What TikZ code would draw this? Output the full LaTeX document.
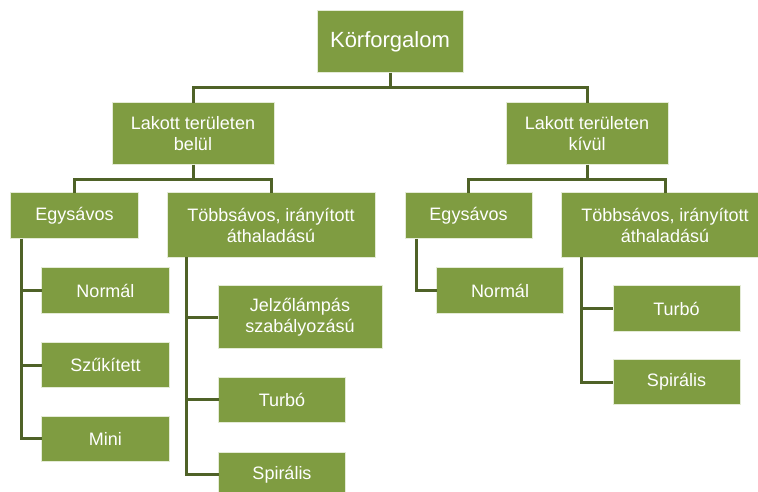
\documentclass[tikz,border=0pt]{standalone}
\usepackage{fontspec}
\setmainfont{Liberation Sans}
\usetikzlibrary{calc}
\definecolor{boxfill}{HTML}{7F9C41}
\definecolor{boxedge}{HTML}{E4EBD6}
\definecolor{linkcol}{HTML}{4F6228}
\begin{document}
\begin{tikzpicture}[x=1bp,y=-1bp,
  box/.style={draw=boxedge, line width=1bp, fill=boxfill, text=white,
    align=center, inner sep=0pt, outer sep=0pt,
    font=\fontsize{18bp}{21bp}\selectfont},
  leaf/.style={box, minimum width=127bp, minimum height=45bp},
  conn/.style={draw=linkcol, line width=3bp}]
\useasboundingbox (0,0) rectangle (758,492);
\clip (0,0) rectangle (758,492);

% tree boxes
\node[box, minimum width=146bp, minimum height=62bp,
  font=\fontsize{22bp}{26bp}\selectfont] (kor) at (390,42) {Körforgalom};
\node[box, minimum width=162bp, minimum height=62bp] (belul) at (193,134) {Lakott területen\\belül};
\node[box, minimum width=162bp, minimum height=62bp] (kivul) at (587,134) {Lakott területen\\kívül};
\node[box, minimum width=127bp, minimum height=46bp] (egy1) at (74.5,216) {Egysávos};
\node[box, minimum width=208bp, minimum height=64bp] (tobb1) at (271,225) {Többsávos, irányított\\áthaladású};
\node[box, minimum width=127bp, minimum height=46bp] (egy2) at (468.5,216) {Egysávos};
\node[box, minimum width=208bp, minimum height=64bp] (tobb2) at (665,225) {Többsávos, irányított\\áthaladású};
\node[leaf] (norm1) at (105.5,290.5) {Normál};
\node[leaf] (szuk) at (105.5,365) {Szűkített};
\node[leaf] (mini) at (105.5,438.5) {Mini};
\node[box, minimum width=164bp, minimum height=62bp] (jelzo) at (300,317) {Jelzőlámpás\\szabályozású};
\node[leaf] (turbo1) at (282,399.5) {Turbó};
\node[leaf] (spir1) at (282,474.5) {Spirális};
\node[leaf] (norm2) at (500,290.5) {Normál};
\node[leaf] (turbo2) at (676.5,308.5) {Turbó};
\node[leaf] (spir2) at (676.5,382) {Spirális};

% top-down connectors
\draw[conn] (kor.south) -- ++(0,15) -| (belul.north);
\draw[conn] (kor.south) -- ++(0,15) -| (kivul.north);
\draw[conn] (belul.south) -- ++(0,15) -| (egy1.north);
\draw[conn] (belul.south) -- ++(0,15) -| (tobb1.north);
\draw[conn] (kivul.south) -- ++(0,15) -| (egy2.north);
\draw[conn] (kivul.south) -- ++(0,15) -| (tobb2.north);

% side rails to the leaves
\draw[conn] ($(egy1.south west)+(11,0)$) |- (norm1.west);
\draw[conn] ($(egy1.south west)+(11,0)$) |- (szuk.west);
\draw[conn] ($(egy1.south west)+(11,0)$) |- (mini.west);
\draw[conn] ($(tobb1.south west)+(19,0)$) |- (jelzo.west);
\draw[conn] ($(tobb1.south west)+(19,0)$) |- (turbo1.west);
\draw[conn] ($(tobb1.south west)+(19,0)$) |- (spir1.west);
\draw[conn] ($(egy2.south west)+(11,0)$) |- (norm2.west);
\draw[conn] ($(tobb2.south west)+(20,0)$) |- (turbo2.west);
\draw[conn] ($(tobb2.south west)+(20,0)$) |- (spir2.west);
\end{tikzpicture}
\end{document}
